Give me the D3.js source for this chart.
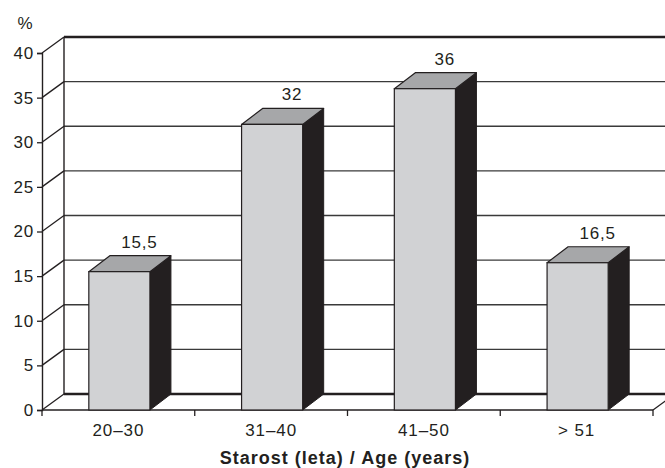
<!DOCTYPE html>
<html>
<head>
<meta charset="utf-8">
<script src="https://cdn.jsdelivr.net/npm/d3@7"></script>
<style>
  html, body { margin: 0; padding: 0; background: #fff; }
  svg { display: block; }
  text { font-family: "Liberation Sans", Arial, sans-serif; fill: #231f20; }
</style>
</head>
<body>
<script>
// Age groups and the share of respondents in each (%)
const categories = ["20–30", "31–40", "41–50", "> 51"];
const values = [15.5, 32, 36, 16.5];
const valueLabels = ["15,5", "32", "36", "16,5"];
const yTicks = [0, 5, 10, 15, 20, 25, 30, 35, 40];
const xTitle = "Starost (leta) / Age (years)";
const yUnit = "%";

const W = 665, H = 468;
const svg = d3.select("body").append("svg").attr("width", W).attr("height", H);

// Front plane of the 3D box
const x = d3.scaleBand().domain(categories).range([42, 653]).padding(0);
const y = d3.scaleLinear().domain([0, 40]).range([410, 53]);

// Depth offset for walls and for bars
const WDX = 22, WDY = -16;
const BDX = 21, BDY = -16;

const ink = "#231f20";
const FS = 17;
const grid = svg.append("g");

// Back wall gridlines and their slants on the left wall
yTicks.forEach(v => {
  const yy = y(v);
  const heavy = (v === 0 || v === 40);
  grid.append("line")
    .attr("x1", x.range()[0] + WDX).attr("x2", x.range()[1] + WDX)
    .attr("y1", yy + WDY).attr("y2", yy + WDY)
    .attr("stroke", heavy ? ink : "#3a3a3a")
    .attr("stroke-width", heavy ? 2.4 : 1.3);
  grid.append("line")
    .attr("x1", x.range()[0]).attr("x2", x.range()[0] + WDX)
    .attr("y1", yy).attr("y2", yy + WDY)
    .attr("stroke", ink).attr("stroke-width", 1.3);
});

// Back wall left edge
grid.append("line")
  .attr("x1", x.range()[0] + WDX).attr("x2", x.range()[0] + WDX)
  .attr("y1", y(40) + WDY).attr("y2", y(0) + WDY)
  .attr("stroke", ink).attr("stroke-width", 1.4);

// Floor right slant
grid.append("line")
  .attr("x1", x.range()[1]).attr("x2", x.range()[1] + WDX)
  .attr("y1", y(0)).attr("y2", y(0) + WDY)
  .attr("stroke", ink).attr("stroke-width", 1.3);

// Y axis on the front plane
const yAxis = d3.axisLeft(y).tickValues(yTicks).tickSize(5).tickPadding(3)
  .tickFormat(d3.format("d"));
const gy = svg.append("g").attr("transform", `translate(${x.range()[0]},0)`).call(yAxis);
gy.select(".domain").attr("stroke", ink).attr("stroke-width", 1.4);
gy.selectAll(".tick line").attr("stroke", ink).attr("stroke-width", 1.3);
gy.selectAll(".tick text").attr("font-size", FS).attr("fill", ink)
  .attr("letter-spacing", 0.8)
  .attr("font-family", "'Liberation Sans', Arial, sans-serif");

// X axis on the front plane, ticks between categories
const gx = svg.append("g").attr("transform", `translate(0,${y(0)})`);
gx.append("line").attr("x1", x.range()[0]).attr("x2", x.range()[1])
  .attr("stroke", ink).attr("stroke-width", 1.4);
const boundaries = categories.map(c => x(c)).concat([x.range()[1]]);
gx.selectAll("line.tk").data(boundaries).join("line").attr("class", "tk")
  .attr("x1", d => d).attr("x2", d => d).attr("y1", 0).attr("y2", 6)
  .attr("stroke", ink).attr("stroke-width", 1.3);
gx.selectAll("text.cat").data(categories).join("text").attr("class", "cat")
  .attr("x", d => x(d) + x.bandwidth() / 2).attr("y", 26)
  .attr("text-anchor", "middle").attr("font-size", FS)
  .attr("letter-spacing", 0.9)
  .text(d => d);

// Bars as 3D boxes
const bw = x.bandwidth() * 0.4;
const bars = svg.append("g").selectAll("g").data(categories).join("g");
bars.each(function (c, i) {
  const g = d3.select(this);
  const x0 = x(c) + x.bandwidth() / 2 - bw / 2 + 1;
  const x1 = x0 + bw;
  const yt = y(values[i]);
  const yb = y(0);
  const pts = a => a.map(p => p.join(",")).join(" ");
  // right side face
  g.append("polygon")
    .attr("points", pts([[x1, yt], [x1 + BDX, yt + BDY], [x1 + BDX, yb + BDY], [x1, yb]]))
    .attr("fill", "#231f20").attr("stroke", ink).attr("stroke-width", 1).attr("stroke-linejoin", "round");
  // top face
  g.append("polygon")
    .attr("points", pts([[x0, yt], [x0 + BDX, yt + BDY], [x1 + BDX, yt + BDY], [x1, yt]]))
    .attr("fill", "#a6a7a9").attr("stroke", ink).attr("stroke-width", 1.2).attr("stroke-linejoin", "round");
  // front face
  g.append("rect")
    .attr("x", x0).attr("y", yt).attr("width", bw).attr("height", yb - yt)
    .attr("fill", "#d1d2d4").attr("stroke", ink).attr("stroke-width", 1.2);
  // value label
  g.append("text")
    .attr("x", (x0 + x1) / 2 + 20).attr("y", yt + BDY - 8)
    .attr("text-anchor", "middle").attr("font-size", FS)
    .attr("letter-spacing", 0.8)
    .text(valueLabels[i]);
});

// Unit label and axis title
svg.append("text").attr("x", 25).attr("y", 29).attr("text-anchor", "middle")
  .attr("font-size", FS).text(yUnit);
svg.append("text").attr("x", 345).attr("y", 464).attr("text-anchor", "middle")
  .attr("font-size", 18).attr("font-weight", "bold").attr("letter-spacing", 1)
  .text(xTitle);
</script>
</body>
</html>
